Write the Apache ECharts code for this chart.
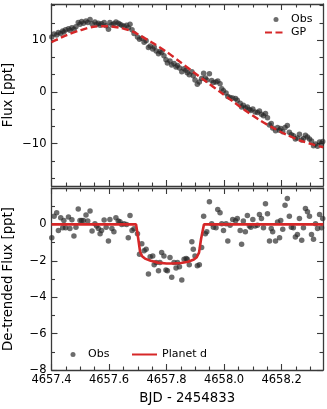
<!DOCTYPE html>
<html><head><meta charset="utf-8">
<script src="https://cdn.jsdelivr.net/npm/echarts@6/dist/echarts.min.js"></script>
<style>html,body{margin:0;padding:0;background:#fff}#c{width:327px;height:409px}</style>
</head><body><div id="c"></div>
<script>
const times = [
4657.401, 4657.409, 4657.418, 4657.424, 4657.432, 4657.439, 4657.443, 4657.449, 4657.459, 4657.464,
4657.471, 4657.478, 4657.485, 4657.493, 4657.499, 4657.505, 4657.511, 4657.520, 4657.526, 4657.534,
4657.541, 4657.551, 4657.557, 4657.563, 4657.569, 4657.574, 4657.583, 4657.590, 4657.598, 4657.603,
4657.610, 4657.617, 4657.624, 4657.632, 4657.638, 4657.644, 4657.652, 4657.661, 4657.667, 4657.673,
4657.680, 4657.687, 4657.699, 4657.706, 4657.714, 4657.722, 4657.729, 4657.737, 4657.743, 4657.752,
4657.757, 4657.764, 4657.772, 4657.777, 4657.783, 4657.791, 4657.798, 4657.803, 4657.812, 4657.818,
4657.826, 4657.833, 4657.838, 4657.845, 4657.853, 4657.861, 4657.868, 4657.872, 4657.879, 4657.888,
4657.893, 4657.899, 4657.907, 4657.914, 4657.922, 4657.929, 4657.935, 4657.940, 4657.949, 4657.957,
4657.963, 4657.972, 4657.978, 4657.986, 4657.992, 4657.998, 4658.007, 4658.013, 4658.021, 4658.030,
4658.040, 4658.046, 4658.056, 4658.061, 4658.067, 4658.074, 4658.081, 4658.088, 4658.093, 4658.100,
4658.108, 4658.116, 4658.123, 4658.130, 4658.137, 4658.144, 4658.151, 4658.158, 4658.164, 4658.169,
4658.179, 4658.186, 4658.193, 4658.197, 4658.204, 4658.212, 4658.220, 4658.227, 4658.234, 4658.241,
4658.248, 4658.255, 4658.262, 4658.270, 4658.276, 4658.283, 4658.290, 4658.297, 4658.304, 4658.311,
4658.318, 4658.325, 4658.332, 4658.339, 4658.343
];
const obsFlux = [
10.6, 11.2, 11.0, 11.5, 11.3, 11.8, 11.6, 12.0, 12.2, 11.9,
12.4, 12.1, 12.6, 13.4, 13.1, 13.6, 13.3, 13.7, 13.4, 14.0,
13.2, 13.5, 13.1, 13.3, 12.9, 13.2, 13.4, 12.8, 12.1, 13.4,
13.0, 13.2, 13.5, 13.3, 13.1, 12.9, 12.7, 12.9, 12.4, 13.1,
12.0, 11.3, 10.6, 10.2, 10.4, 9.6, 9.9, 8.6, 8.9, 8.3,
8.7, 7.9, 7.4, 7.8, 7.6, 7.0, 6.2, 5.6, 6.0, 5.2,
5.5, 4.8, 5.1, 4.6, 3.9, 4.5, 4.2, 3.7, 3.3, 3.9,
3.1, 2.3, 1.5, 1.9, 2.6, 3.6, 2.7, 2.3, 3.5, 2.2,
1.8, 1.9, 2.1, 1.6, 0.6, 0.2, -0.2, -0.9, -1.1, -1.2,
-1.3, -1.6, -2.2, -2.9, -2.6, -3.1, -2.9, -3.4, -3.6, -3.3,
-3.9, -4.0, -3.7, -4.3, -4.6, -4.2, -5.0, -6.4, -6.1, -7.0,
-7.5, -6.9, -7.4, -7.1, -7.7, -6.9, -6.5, -7.8, -8.3, -8.5,
-9.1, -8.9, -8.2, -9.3, -9.0, -8.4, -8.7, -9.1, -9.5, -10.4,
-10.1, -10.5, -9.7, -10.0, -9.6
];
const detrendedFlux = [
-0.73, 0.45, 0.64, -0.33, 0.36, -0.18, 0.22, -0.18, 0.40, -0.22,
0.25, -0.64, -0.15, 0.85, 0.22, 0.22, 0.22, 0.51, 0.18, 0.73,
-0.36, 0.04, -0.09, -0.22, -0.51, -0.33, 0.24, -0.15, -0.91, 0.27,
-0.22, -0.40, 0.36, 0.18, 0.15, 0.00, 0.04, 0.00, -0.73, 0.49,
-0.33, -0.24, -0.51, -1.64, -1.07, -1.45, -1.36, -2.73, -1.78, -1.73,
-2.22, -2.09, -2.55, -2.09, -1.55, -1.73, -2.51, -2.55, -1.82, -2.91,
-2.09, -2.40, -2.09, -2.33, -3.05, -1.91, -1.87, -1.91, -2.22, -0.95,
-1.36, -1.73, -2.27, -2.22, -1.27, 0.45, -0.51, -0.40, 1.24, 0.04,
-0.15, -0.18, 0.82, 0.64, 0.04, -0.33, 0.04, -0.91, -0.05, 0.27,
0.20, 0.33, -0.33, -1.09, 0.18, -0.40, 0.49, -0.09, -0.15, 0.27,
-0.09, -0.04, 0.55, 0.33, -0.18, 1.13, 0.58, -0.91, -0.22, -0.40,
-0.91, 0.13, -0.73, 0.22, -0.27, 1.05, 1.42, 0.45, -0.15, -0.18,
-0.69, -0.55, 0.33, -0.87, -0.18, 0.87, 0.69, 0.45, -0.55, -0.82,
0.04, -0.22, 0.55, -0.18, 0.33
];
const gpTimes = [4657.400, 4657.453, 4657.499, 4657.546, 4657.592, 4657.638, 4657.685, 4657.708, 4657.754, 4657.801, 4657.847, 4657.893, 4657.940, 4657.986, 4658.032, 4658.079, 4658.125, 4658.172, 4658.218, 4658.264, 4658.311, 4658.345];
const gpFlux = [9.6, 11.0, 11.9, 12.6, 12.7, 12.4, 11.6, 10.9, 9.4, 7.7, 5.8, 3.85, 1.9, 0.0, -1.9, -3.8, -5.5, -7.0, -8.3, -9.4, -10.2, -10.7];
const modelTimes = [4657.400, 4657.694, 4657.700, 4657.708, 4657.715, 4657.725, 4657.745, 4657.770, 4657.800, 4657.820, 4657.850, 4657.875, 4657.895, 4657.905, 4657.913, 4657.920, 4657.930, 4658.345];
const modelFlux = [0, 0, -0.6, -1.5, -1.75, -1.88, -2.0, -2.1, -2.15, -2.15, -2.12, -2.05, -1.93, -1.8, -1.55, -0.8, 0, 0];

const xMajorTicks = [4657.4, 4657.6, 4657.8, 4658.0, 4658.2];
const xMinorTicks = [4657.45, 4657.5, 4657.55, 4657.65, 4657.7, 4657.75, 4657.85, 4657.9, 4657.95, 4658.05, 4658.1, 4658.15, 4658.25, 4658.3];
const topYMajorTicks = [-10, 0, 10];
const topYMinorTicks = [-16.667, -13.333, -6.667, -3.333, 3.333, 6.667, 13.333, 16.667];
const botYMajorTicks = [-8, -6, -4, -2, 0, 2];
const botYLabels = [-8, -6, -4, -2, 0];
const botYMinorTicks = [-7, -5, -3, -1, 1];

const X_MIN = 4657.4, X_MAX = 4658.344;
const FONT = 'DejaVu Sans';
const AX = '#3a3a3a';
const RED = '#d62728';
const MAJ = 6, MIN = 3.5;

function axis(type, grid, pos, min, max, ticks, len, line, extra) {
  return Object.assign({
    type: 'value', gridIndex: grid, position: pos, min: min, max: max,
    axisLine: { show: line, onZero: false, lineStyle: { color: AX, width: 1.3 } },
    axisTick: { show: true, inside: true, length: len, customValues: ticks, lineStyle: { color: AX, width: 1.1 } },
    axisLabel: { show: false },
    splitLine: { show: false }
  }, extra || {});
}
const minus = v => String(v).replace('-', '\u2212');
const tickFont = { fontFamily: FONT, fontSize: 11.5, color: '#000' };
const nameFont = { fontFamily: FONT, fontSize: 13.3, color: '#000' };

const xAxes = [
  axis('x', 0, 'bottom', X_MIN, X_MAX, xMajorTicks, MAJ, true),
  axis('x', 0, 'bottom', X_MIN, X_MAX, xMinorTicks, MIN, false),
  axis('x', 0, 'top', X_MIN, X_MAX, xMajorTicks, MAJ, true),
  axis('x', 0, 'top', X_MIN, X_MAX, xMinorTicks, MIN, false),
  axis('x', 1, 'bottom', X_MIN, X_MAX, xMajorTicks, MAJ, true, {
    axisLabel: Object.assign({ show: true, customValues: xMajorTicks, margin: 4, formatter: v => v.toFixed(1) }, tickFont),
    name: 'BJD - 2454833', nameLocation: 'middle', nameGap: 22, nameTextStyle: nameFont
  }),
  axis('x', 1, 'bottom', X_MIN, X_MAX, xMinorTicks, MIN, false),
  axis('x', 1, 'top', X_MIN, X_MAX, xMajorTicks, MAJ, true),
  axis('x', 1, 'top', X_MIN, X_MAX, xMinorTicks, MIN, false)
];
const TOP_MIN = -18.2, TOP_MAX = 17.0;
const yAxes = [
  axis('y', 0, 'left', TOP_MIN, TOP_MAX, topYMajorTicks, MAJ, true, {
    axisLabel: Object.assign({ show: true, customValues: topYMajorTicks, margin: 5, formatter: minus }, tickFont),
    name: 'Flux [ppt]', nameLocation: 'middle', nameGap: 36, nameMoveOverlap: false, nameTextStyle: nameFont
  }),
  axis('y', 0, 'left', TOP_MIN, TOP_MAX, topYMinorTicks, MIN, false),
  axis('y', 0, 'right', TOP_MIN, TOP_MAX, topYMajorTicks, MAJ, true),
  axis('y', 0, 'right', TOP_MIN, TOP_MAX, topYMinorTicks, MIN, false),
  axis('y', 1, 'left', -8, 2, botYMajorTicks, MAJ, true, {
    axisLabel: Object.assign({ show: true, customValues: botYLabels, margin: 5, formatter: minus }, tickFont),
    name: 'De-trended Flux [ppt]', nameLocation: 'middle', nameGap: 36, nameMoveOverlap: false, nameTextStyle: nameFont
  }),
  axis('y', 1, 'left', -8, 2, botYMinorTicks, MIN, false),
  axis('y', 1, 'right', -8, 2, botYMajorTicks, MAJ, true),
  axis('y', 1, 'right', -8, 2, botYMinorTicks, MIN, false)
];

const legendText = { fontFamily: FONT, fontSize: 11, color: '#000' };
function leg(name, left, top, w, h, hideSymbol) {
  const o = { data: [name], left: left, top: top, padding: 0, itemWidth: w, itemHeight: h,
           selectedMode: false, orient: 'horizontal', textStyle: legendText, itemGap: 0 };
  if (hideSymbol) o.itemStyle = { opacity: 0 };
  return o;
}

const obsStyle = { color: '#262626', opacity: 0.68 };
const chart = echarts.init(document.getElementById('c'), null, { renderer: 'canvas' });
chart.setOption({
  animation: false,
  backgroundColor: '#fff',
  grid: [
    { left: 51.5, top: 4, width: 271.5, height: 182, containLabel: false, outerBoundsMode: 'none' },
    { left: 51.5, top: 188, width: 271.5, height: 182, containLabel: false, outerBoundsMode: 'none' }
  ],
  xAxis: xAxes,
  yAxis: yAxes,
  legend: [
    leg('Obs', 273.5, 14, 20, 5),
    leg('GP', 264, 27, 21, 5, true),
    leg('Obs', 70.5, 349, 20, 5),
    leg('Planet d', 131, 349, 25, 5, true)
  ],
  series: [
    { name: 'Obs', type: 'scatter', xAxisIndex: 0, yAxisIndex: 0, symbol: 'circle', symbolSize: 5.5,
      itemStyle: obsStyle, data: times.map((t, i) => [t, obsFlux[i]]), z: 2 },
    { name: 'GP', type: 'line', xAxisIndex: 0, yAxisIndex: 0, symbol: 'none', showSymbol: false, smooth: 0.3,
      lineStyle: { color: RED, width: 2.4, type: [7, 3.5] }, itemStyle: { color: RED },
      data: gpTimes.map((t, i) => [t, gpFlux[i]]), z: 3 },
    { name: 'Obs', type: 'scatter', xAxisIndex: 4, yAxisIndex: 4, symbol: 'circle', symbolSize: 5.5,
      itemStyle: obsStyle, data: times.map((t, i) => [t, detrendedFlux[i]]), z: 2 },
    { name: 'Planet d', type: 'line', xAxisIndex: 4, yAxisIndex: 4, symbol: 'none', showSymbol: false,
      lineStyle: { color: RED, width: 2.6 }, itemStyle: { color: RED },
      data: modelTimes.map((t, i) => [t, modelFlux[i]]), z: 3 }
  ]
});
</script></body></html>
